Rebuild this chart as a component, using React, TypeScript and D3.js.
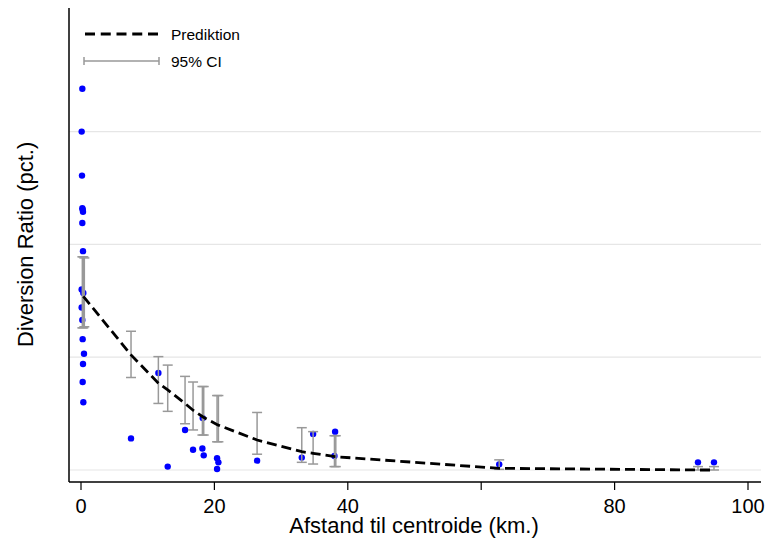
import React from "react";
import * as d3 from "d3";

const W = 766;
const H = 539;

// Observations (distance km, diversion ratio pct.)
const obsX = [0.2, 0.1, 0.15, 0.2, 0.25, 0.3, 0.2, 0.3, 0.1, 0.35, 0.1, 0.2, 0.25, 0.45, 0.3, 0.25, 0.35,
  7.5, 11.6, 13.0, 15.6, 16.8, 18.2, 18.4, 18.25, 20.4, 20.6, 20.4, 26.4, 33.1, 34.8, 38.1, 38.0, 62.7, 92.5, 94.9];
const obsY = [33.8, 30.0, 26.1, 23.2, 23.1, 22.9, 21.9, 19.4, 16.0, 15.7, 14.4, 13.3, 11.6, 10.3, 9.4, 7.8, 6.0,
  2.8, 8.6, 0.3, 3.55, 1.8, 1.9, 1.3, 4.6, 1.04, 0.68, 0.09, 0.83, 1.1, 3.2, 3.4, 1.24, 0.5, 0.68, 0.68];

// Prediction line
const predX = [0.35, 7.5, 11.6, 13.0, 15.6, 16.8, 18.3, 20.5, 26.4, 33.1, 34.8, 38.1, 62.7, 92.5, 94.9];
const predY = [15.4, 10.2, 7.7, 7.1, 5.9, 5.3, 4.7, 4.0, 2.66, 1.62, 1.48, 1.18, 0.15, 0.0, 0.0];

// 95% CI
const ciX = [0.2, 0.35, 0.5, 7.5, 11.6, 13.0, 15.6, 16.8, 18.2, 18.4, 20.4, 20.6, 26.4, 33.1, 34.8, 38.0, 38.2, 62.7, 92.5, 94.9];
const ciLo = [12.6, 12.6, 12.7, 8.2, 5.9, 5.2, 4.1, 3.55, 3.1, 3.1, 2.5, 2.5, 1.4, 0.68, 0.53, 0.3, 0.3, 0.06, 0.0, 0.0];
const ciHi = [18.9, 18.9, 18.8, 12.3, 10.05, 9.3, 8.3, 7.8, 7.4, 7.4, 6.6, 6.6, 5.1, 3.75, 3.4, 3.04, 3.04, 0.9, 0.3, 0.3];

const xTicks = [0, 20, 40, 60, 80, 100];
// labels shown in the reference (60 is hidden behind the axis title)
const xTickLabels = [0, 20, 40, 80, 100];
const yTicks = [0, 10, 20, 30, 40];
const gridVals = [0, 10, 20, 30];

const FONT = "'Liberation Sans', Arial, sans-serif";

export default function App() {
  const x = d3.scaleLinear().domain([0, 100]).range([81, 748]);
  const y = d3.scaleLinear().domain([0, 40]).range([470, 18.8]);
  const axisX = 69;
  const axisY = 482;
  const plotRight = 761;

  const line = d3
    .line<number>()
    .x((_, i) => x(predX[i]))
    .y((d) => y(d));

  const cap = 5;

  return (
    <svg
      width={W}
      height={H}
      style={{ position: "absolute", left: 0, top: 0, background: "#fff" }}
      fontFamily={FONT}
    >
      <rect width={W} height={H} fill="#fff" />
      {/* gridlines */}
      {gridVals.map((v) => (
        <line key={"g" + v} x1={axisX} x2={plotRight} y1={y(v)} y2={y(v)} stroke="#e6e6e6" strokeWidth={1.2} />
      ))}

      {/* observations */}
      {obsX.map((vx, i) => (
        <circle key={"o" + i} cx={x(vx)} cy={y(obsY[i])} r={3.2} fill="#0000ff" />
      ))}

      {/* CI */}
      {ciX.map((vx, i) => {
        const cx = x(vx);
        const y1 = y(ciHi[i]);
        const y2 = y(ciLo[i]);
        return (
          <g key={"c" + i} stroke="#999999" strokeWidth={1.5} fill="none">
            <line x1={cx} x2={cx} y1={y1} y2={y2} />
            <line x1={cx - cap} x2={cx + cap} y1={y1} y2={y1} />
            <line x1={cx - cap} x2={cx + cap} y1={y2} y2={y2} />
          </g>
        );
      })}

      {/* prediction */}
      <path d={line(predY) || ""} fill="none" stroke="#000" strokeWidth={2.8} strokeDasharray="10,5" />

      {/* axes */}
      <line x1={axisX} x2={axisX} y1={8} y2={axisY} stroke="#000" strokeWidth={1.5} />
      <line x1={axisX} x2={plotRight} y1={axisY} y2={axisY} stroke="#000" strokeWidth={1.5} />
      {xTicks.map((t) => (
        <line key={"xt" + t} x1={x(t)} x2={x(t)} y1={axisY} y2={axisY + 8} stroke="#000" strokeWidth={1.2} />
      ))}
      {xTickLabels.map((t) => (
        <text key={"xl" + t} x={x(t)} y={513} textAnchor="middle" fontSize={20} fill="#000">
          {t}
        </text>
      ))}
      {yTicks.map((t) => (
        <text key={"yt" + t} x={40} y={y(t) + 6} textAnchor="middle" fontSize={16} fill="#fff">
          {t}
        </text>
      ))}

      {/* axis titles */}
      <text x={414} y={533} textAnchor="middle" fontSize={22} fill="#000">
        Afstand til centroide (km.)
      </text>
      <text
        transform={`translate(33, ${y(20)}) rotate(-90)`}
        textAnchor="middle"
        fontSize={22}
        fill="#000"
      >
        Diversion Ratio (pct.)
      </text>

      {/* legend */}
      <line x1={85} x2={158} y1={34} y2={34} stroke="#000" strokeWidth={2.8} strokeDasharray="10,5.75" />
      <text x={171} y={40} fontSize={15.5} fill="#000">
        Prediktion
      </text>
      <g stroke="#999999" strokeWidth={1.5}>
        <line x1={84} x2={159} y1={61} y2={61} />
        <line x1={84} x2={84} y1={57} y2={65} />
        <line x1={159} x2={159} y1={57} y2={65} />
      </g>
      <text x={171} y={67} fontSize={15.5} fill="#000">
        95% CI
      </text>
    </svg>
  );
}
